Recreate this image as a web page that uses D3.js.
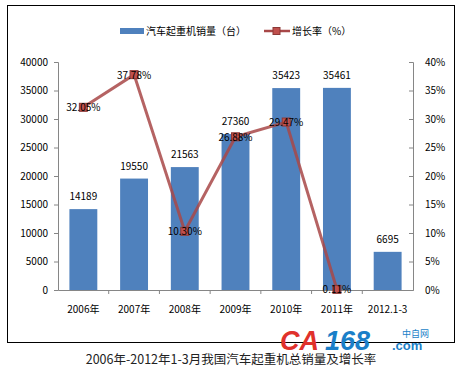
<!DOCTYPE html>
<html>
<head>
<meta charset="utf-8">
<script src="https://cdn.jsdelivr.net/npm/d3@7"></script>
<style>
  body { margin: 0; background: #fff; }
  svg { display: block; font-family: "Noto Sans CJK SC", "DejaVu Sans", sans-serif; }
</style>
</head>
<body>
<svg id="chart" width="459" height="370"></svg>
<script>
var categories = ['2006年', '2007年', '2008年', '2009年', '2010年', '2011年', '2012.1-3'];
var sales = [14189, 19550, 21563, 27360, 35423, 35461, 6695];
var growth = [32.05, 37.78, 10.30, 26.88, 29.47, 0.11];
var leftTicks = [0, 5000, 10000, 15000, 20000, 25000, 30000, 35000, 40000];
var rightTicks = [0, 5, 10, 15, 20, 25, 30, 35, 40];

(function(){
  var svg = d3.select('#chart');
  var left = 58, right = 413, plotTop = 62, bottom = 290;

  // outer frame
  svg.append('rect').attr('x', 7.5).attr('y', 5.5).attr('width', 447).attr('height', 337)
    .attr('fill', '#fff').attr('stroke', '#000').attr('stroke-width', 1);

  var x = d3.scaleBand().domain(categories).range([left, right]).paddingInner(0.45).paddingOuter(0.225);
  var y = d3.scaleLinear().domain([0, 40000]).range([bottom, plotTop]);
  var y2 = d3.scaleLinear().domain([0, 40]).range([bottom, plotTop]);

  // bars
  svg.append('g').selectAll('rect').data(sales).join('rect')
    .attr('x', function(d, i){ return x(categories[i]); })
    .attr('y', function(d){ return y(d); })
    .attr('width', x.bandwidth())
    .attr('height', function(d){ return bottom - y(d); })
    .attr('fill', '#4f81bd');

  // axes
  var axisColor = '#868686';
  var gl = svg.append('g').attr('transform', 'translate(' + left + ',0)')
    .call(d3.axisLeft(y).tickValues(leftTicks).tickSize(4).tickPadding(6).tickFormat(d3.format('d')));
  var gr = svg.append('g').attr('transform', 'translate(' + right + ',0)')
    .call(d3.axisRight(y2).tickValues(rightTicks).tickSize(-4).tickPadding(12).tickFormat(function(d){ return d + '%'; }));
  var gx = svg.append('g').attr('transform', 'translate(0,' + bottom + ')')
    .call(d3.axisBottom(x).tickSize(0).tickPadding(16));
  [gl, gr, gx].forEach(function(g){
    g.select('.domain').attr('stroke', axisColor);
    g.selectAll('.tick line').attr('stroke', axisColor);
    g.selectAll('.tick text').attr('fill', '#000').style('font-size', '10px')
      .style('font-family', '"Noto Sans CJK SC", sans-serif');
  });
  gr.selectAll('.tick text').attr('x', 12);
  // category boundary ticks on x axis
  var step = x.step();
  svg.append('g').selectAll('line').data(d3.range(1, categories.length)).join('line')
    .attr('x1', function(i){ return x(categories[i]) - step * 0.225; })
    .attr('x2', function(i){ return x(categories[i]) - step * 0.225; })
    .attr('y1', bottom).attr('y2', bottom + 4)
    .attr('stroke', axisColor);

  // bar labels
  svg.append('g').selectAll('text').data(sales).join('text')
    .attr('x', function(d, i){ return x(categories[i]) + x.bandwidth() / 2; })
    .attr('y', function(d){ return y(d) - 9; })
    .attr('text-anchor', 'middle')
    .style('font-size', '10px')
    .text(function(d){ return d; });

  // growth line
  var cx = function(d, i){ return x(categories[i]) + x.bandwidth() / 2; };
  var line = d3.line().x(cx).y(function(d){ return y2(d); });
  svg.append('path').datum(growth).attr('d', line)
    .attr('fill', 'none').attr('stroke', '#a84848').attr('stroke-width', 3).attr('opacity', 0.85);
  svg.append('g').selectAll('rect').data(growth).join('rect')
    .attr('x', function(d, i){ return cx(d, i) - 4; })
    .attr('y', function(d){ return y2(d) - 4; })
    .attr('width', 8).attr('height', 8)
    .attr('fill', '#c0504d').attr('stroke', '#8c3836').attr('stroke-width', 1);
  svg.append('g').selectAll('text').data(growth).join('text')
    .attr('x', function(d, i){ return cx(d, i); })
    .attr('y', function(d){ return y2(d) + 4; })
    .attr('text-anchor', 'middle')
    .style('font-size', '10px')
    .text(function(d){ return d.toFixed(2) + '%'; });

  // legend
  var lg = svg.append('g');
  lg.append('rect').attr('x', 120).attr('y', 28).attr('width', 24).attr('height', 6).attr('fill', '#4f81bd');
  lg.append('text').attr('x', 146).attr('y', 35).style('font-size', '10px').text('汽车起重机销量（台）');
  lg.append('line').attr('x1', 264).attr('x2', 290).attr('y1', 31).attr('y2', 31)
    .attr('stroke', '#a84848').attr('stroke-width', 2.5);
  lg.append('rect').attr('x', 273).attr('y', 27.5).attr('width', 7).attr('height', 7)
    .attr('fill', '#c0504d').attr('stroke', '#8c3836');
  lg.append('text').attr('x', 292).attr('y', 35).style('font-size', '10px').text('增长率（%）');

  // watermark logo
  var logoFont = 'Arial, "Liberation Sans", sans-serif';
  var logo = svg.append('g');
  logo.append('text').attr('x', 280).attr('y', 350).style('font-size', '27px').style('font-weight', 'bold')
    .style('font-style', 'italic').attr('fill', '#e0312b').style('font-family', logoFont).text('CA');
  logo.append('text').attr('x', 325).attr('y', 350).style('font-size', '27px').style('font-weight', 'bold')
    .style('font-style', 'italic').attr('fill', '#1a7fc8').style('font-family', logoFont).text('168');
  logo.append('text').attr('x', 392).attr('y', 350).style('font-size', '13px').style('font-weight', 'bold')
    .attr('fill', '#1a7fc8').style('font-family', logoFont).text('.com');
  logo.append('text').attr('x', 402).attr('y', 337).style('font-size', '9px').attr('fill', '#1a7fc8').text('中自网');

  // caption
  svg.append('text').attr('x', 231).attr('y', 364).attr('text-anchor', 'middle')
    .style('font-size', '12.5px').attr('fill', '#222')
    .text('2006年-2012年1-3月我国汽车起重机总销量及增长率');
})();
</script>
</body>
</html>
